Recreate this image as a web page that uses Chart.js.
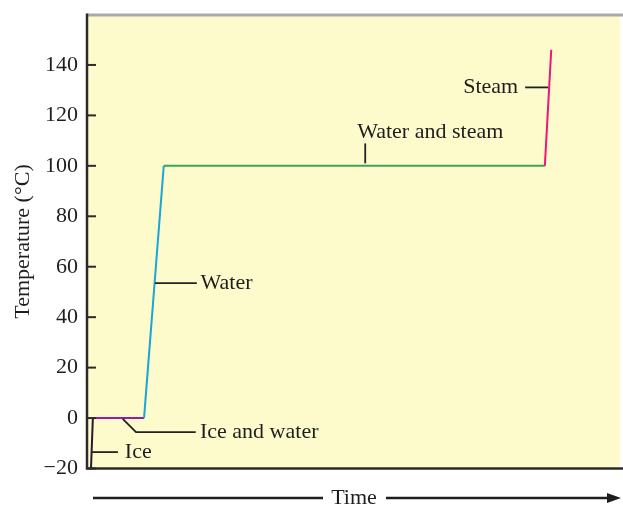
<!DOCTYPE html>
<html>
<head>
<meta charset="utf-8">
<script src="https://cdn.jsdelivr.net/npm/chart.js@4"></script>
<style>
  html, body { margin: 0; padding: 0; background: #fff; }
  #wrap { width: 623px; height: 506px; position: relative; }
</style>
</head>
<body>
<div id="wrap"><canvas id="heating"></canvas></div>
<script>
// heating curve of water
const phases = ['Ice', 'Ice and water', 'Water', 'Water and steam', 'Steam'];
const timeValues = [0.75, 1.1, 10.7, 14.4, 85.9, 87.1];
const tempValues = [-20, 0, 0, 100, 100, 146];
const yTicks = [-20, 0, 20, 40, 60, 80, 100, 120, 140];

const phaseColors = ['#2a1830', '#a3169e', '#1ba6d6', '#3ea35a', '#ee1677'];
const serif = 'Liberation Serif';

let points = [];
for (let i = 0; i < timeValues.length; i++) {
  points.push({ x: timeValues[i], y: tempValues[i] });
}

// background, frame, inward ticks, leader labels and the time arrow
const decor = {
  id: 'decor',
  beforeDraw(chart) {
    const { ctx, chartArea: a } = chart;
    ctx.save();
    ctx.fillStyle = '#fdfbcc';
    ctx.fillRect(a.left, a.top, a.right - a.left, a.bottom - a.top);
    ctx.restore();
  },
  afterDatasetsDraw(chart) {
    const { ctx, chartArea: a } = chart;
    const xs = chart.scales.x, ys = chart.scales.y;
    const X = v => xs.getPixelForValue(v);
    const Y = v => ys.getPixelForValue(v);
    ctx.save();

    // frame
    ctx.strokeStyle = '#a9a9a9';
    ctx.lineWidth = 3;
    ctx.beginPath();
    ctx.moveTo(a.left, a.top + 0.5);
    ctx.lineTo(623, a.top + 0.5);
    ctx.stroke();
    ctx.strokeStyle = '#2b2b2b';
    ctx.lineWidth = 2.5;
    ctx.beginPath();
    ctx.moveTo(a.left, a.top - 1);
    ctx.lineTo(a.left, a.bottom);
    ctx.lineTo(623, a.bottom);
    ctx.stroke();

    // tick marks pointing into the plot
    ctx.lineWidth = 2;
    yTicks.forEach(t => {
      ctx.beginPath();
      ctx.moveTo(a.left, Y(t));
      ctx.lineTo(a.left + 9, Y(t));
      ctx.stroke();
    });

    // leader lines
    ctx.strokeStyle = '#222';
    ctx.lineWidth = 1.8;
    const lead = pts => {
      ctx.beginPath();
      ctx.moveTo(X(pts[0][0]), Y(pts[0][1]));
      for (let i = 1; i < pts.length; i++) ctx.lineTo(X(pts[i][0]), Y(pts[i][1]));
      ctx.stroke();
    };
    lead([[0.95, -13.5], [5.8, -13.5]]);
    lead([[6.7, -0.3], [9.2, -5.6], [20.4, -5.6]]);
    lead([[12.75, 53.5], [20.6, 53.5]]);
    lead([[52.2, 101], [52.2, 108.9]]);
    lead([[82.2, 131.1], [86.5, 131.1]]);

    ctx.fillStyle = '#1e1e1e';
    ctx.font = '22px "' + serif + '"';
    ctx.textBaseline = 'middle';
    ctx.textAlign = 'left';
    ctx.fillText(phases[0], X(7.1), Y(-13.5));
    ctx.fillText(phases[1], X(21.2), Y(-5.8));
    ctx.fillText(phases[2], X(21.3), Y(53.5));
    ctx.textAlign = 'center';
    ctx.fillText(phases[3], X(64.4), Y(113.5));
    ctx.textAlign = 'right';
    ctx.fillText(phases[4], X(80.9), Y(131.1));

    // time arrow under the plot
    const ay = 498;
    ctx.textAlign = 'center';
    ctx.fillText('Time', 354, ay);
    ctx.strokeStyle = '#1e1e1e';
    ctx.lineWidth = 2.5;
    ctx.beginPath();
    ctx.moveTo(93, ay);
    ctx.lineTo(323, ay);
    ctx.moveTo(386, ay);
    ctx.lineTo(610, ay);
    ctx.stroke();
    ctx.fillStyle = '#1e1e1e';
    ctx.beginPath();
    ctx.moveTo(621, ay);
    ctx.lineTo(607, ay - 5);
    ctx.lineTo(607, ay + 5);
    ctx.closePath();
    ctx.fill();

    ctx.restore();
  }
};

const data = {
  datasets: [{
    label: 'Temperature',
    data: points,
    borderWidth: 2,
    pointRadius: 0,
    fill: false,
    tension: 0,
    borderColor: phaseColors[0],
    segment: {
      borderColor: c => phaseColors[c.p0DataIndex]
    }
  }]
};

const config = {
  type: 'line',
  data: data,
  options: {
    responsive: true,
    maintainAspectRatio: false,
    animation: false,
    layout: { padding: { left: 0, right: 3, top: 14.5, bottom: 37.5 } },
    plugins: { legend: { display: false }, tooltip: { enabled: false } },
    scales: {
      x: {
        type: 'linear',
        min: 0,
        max: 100,
        display: false
      },
      y: {
        min: -20,
        max: 160,
        afterFit: s => {
          s.width = 87;
          s.paddingTop = 0;
          s.paddingBottom = 0;
        },
        grid: { display: false, drawTicks: false },
        border: { display: false },
        ticks: {
          stepSize: 20,
          padding: 9,
          color: '#1e1e1e',
          font: { family: serif, size: 22 },
          callback: v => (yTicks.includes(v) ? String(v).replace('-', '\u2212') : '')
        },
        title: {
          display: true,
          text: 'Temperature (°C)',
          color: '#1e1e1e',
          font: { family: serif, size: 22 },
          padding: { top: 10, bottom: 0 }
        }
      }
    }
  },
  plugins: [decor]
};

const myChart = new Chart(document.getElementById('heating'), config);
</script>
</body>
</html>
